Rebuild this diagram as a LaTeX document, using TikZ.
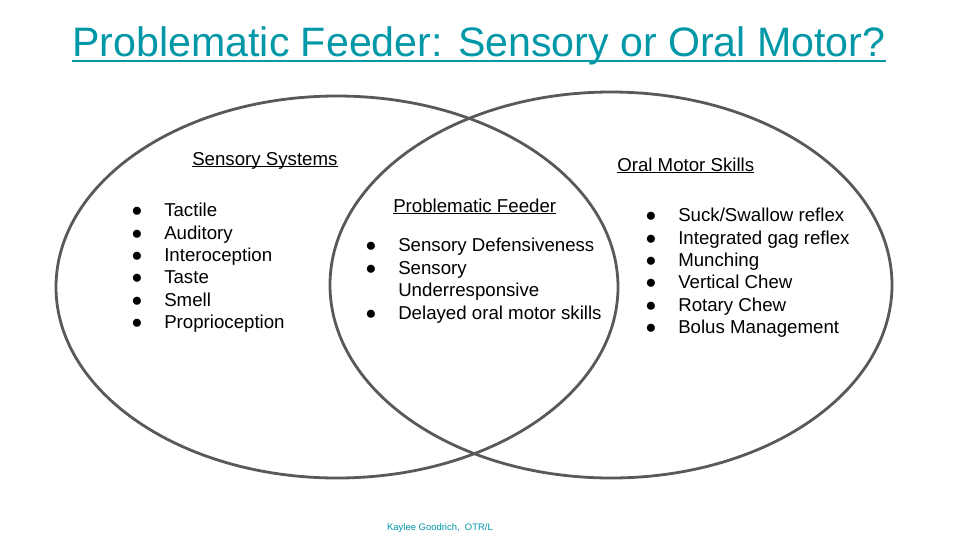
\documentclass[tikz,border=0pt]{standalone}
\usepackage{fontspec}
\setmainfont{Liberation Sans}
\definecolor{teal1}{HTML}{0097A7}
\definecolor{ringc}{HTML}{595959}
\tikzset{
 ringline/.style={draw=ringc,line width=2.1pt},
 lab/.style={anchor=base west,font=\fontsize{14}{16}\selectfont,inner sep=0pt},
 head/.style={anchor=base west,font=\fontsize{14}{16}\selectfont,inner sep=0pt},
}
\newsavebox{\ulbox}
\newcommand{\Ul}[3]{\sbox{\ulbox}{#3}\rlap{\rule[-#1]{\wd\ulbox}{#2}}\usebox{\ulbox}}
\begin{document}
\begin{tikzpicture}[x=0.75pt,y=-0.75pt]
\useasboundingbox (0,0) rectangle (960,540);
\fill[white] (0,0) rectangle (960,540);
\draw[ringline] (337,287) ellipse [x radius=281,y radius=191];
\draw[ringline] (611,285) ellipse [x radius=281,y radius=193];
\node[anchor=base,inner sep=0pt,text=teal1,font=\fontsize{30.85}{36}\selectfont] (title) at (479,56) {\Ul{4.6pt}{1.8pt}{Problematic Feeder: Sensory or Oral Motor?}};
\node[head] (h1) at (192,165) {\Ul{1.8pt}{0.8pt}{Sensory Systems}};
\node[head] (h2) at (393,212) {\Ul{1.8pt}{0.8pt}{Problematic Feeder}};
\node[head] (h3) at (617,171) {\Ul{1.8pt}{0.8pt}{Oral Motor Skills}};
\foreach \n/\y/\t in {a/216/Tactile,b/239/Auditory,c/261/Interoception,d/283/Taste,e/306/Smell,f/328/Proprioception}{
 \node[lab] (l\n) at (164,\y) {\t};
 \node[lab] (bl\n) at (131,\y) {●};
}
\foreach \n/\y/\t in {a/251/Sensory Defensiveness,b/274/Sensory,c/296/Underresponsive,d/319/Delayed oral motor skills}{
 \node[lab] (m\n) at (398,\y) {\t};
}
\foreach \n/\y in {a/251,b/274,d/319}{\node[lab] (bm\n) at (365,\y) {●};}
\foreach \n/\y/\t in {a/221/{Suck/Swallow reflex},b/244/Integrated gag reflex,c/266/Munching,d/288/Vertical Chew,e/311/Rotary Chew,f/333/Bolus Management}{
 \node[lab] (r\n) at (678,\y) {\t};
 \node[lab] (br\n) at (645,\y) {●};
}
\node[anchor=base,inner sep=0pt,text=teal1,font=\fontsize{7.1}{9}\selectfont] (cr) at (440,530) {Kaylee Goodrich,\ \ OTR/L};
\end{tikzpicture}
\end{document}
